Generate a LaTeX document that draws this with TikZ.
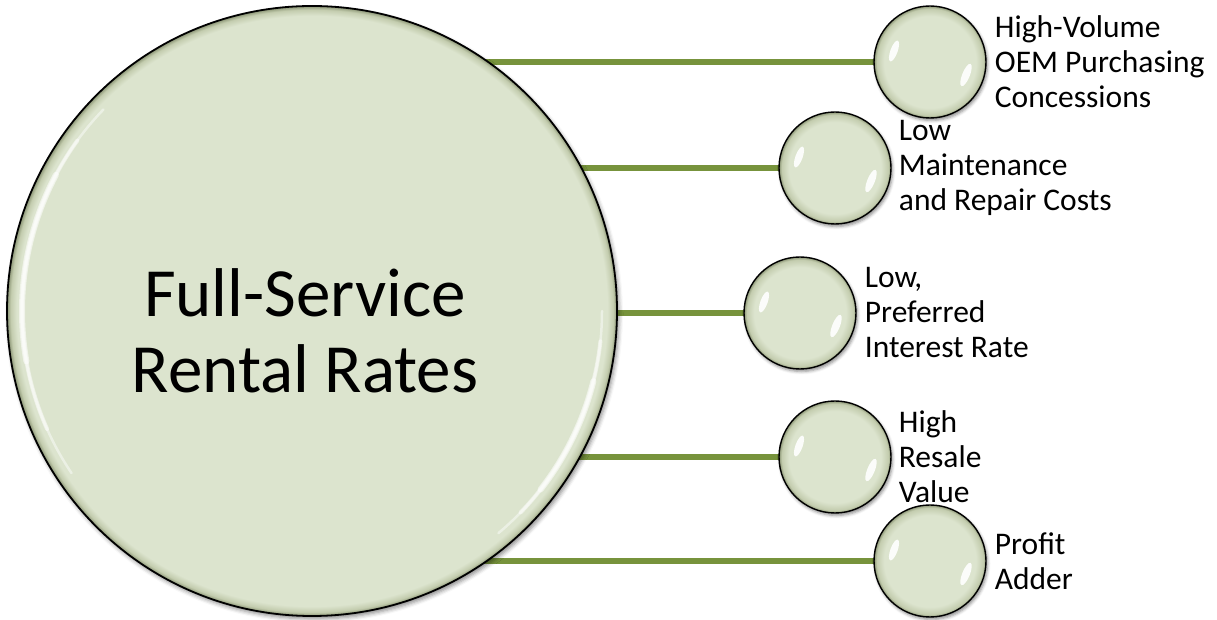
\documentclass[tikz,border=0pt]{standalone}
\usepackage{fontspec}
\setmainfont{Carlito}
\usetikzlibrary{shadows.blur}
\definecolor{ballfill}{HTML}{DCE4CE}
\definecolor{ballmid}{HTML}{C3CCAE}
\definecolor{balledge}{HTML}{8A9474}
\definecolor{linkc}{HTML}{77933C}
\pgfdeclareradialshading{smallballshade}{\pgfpoint{0bp}{0bp}}{color(0bp)=(ballfill); color(20.5bp)=(ballfill); color(23.8bp)=(ballmid); color(25bp)=(balledge); color(50bp)=(balledge)}
\pgfdeclareradialshading{bigballshade}{\pgfpoint{0bp}{0bp}}{color(0bp)=(ballfill); color(24.2bp)=(ballfill); color(24.7bp)=(ballmid); color(25bp)=(balledge); color(50bp)=(balledge)}
\pgfdeclarelayer{background}
\pgfsetlayers{background,main}
\begin{document}
\begin{tikzpicture}[x=1pt,y=1pt,
  smallball/.style={circle, inner sep=0pt, draw=black, line width=1.4pt, shade, shading=smallballshade, minimum size=112pt,
    blur shadow={shadow xshift=1.5pt, shadow yshift=-2.5pt, shadow blur radius=3pt, shadow opacity=45}},
  mainball/.style={circle, inner sep=0pt, draw=black, line width=1.8pt, shade, shading=bigballshade, minimum size=610pt,
    blur shadow={shadow xshift=2pt, shadow yshift=-3pt, shadow blur radius=4pt, shadow opacity=45}},
  link/.style={linkc, line width=6pt},
  lab/.style={anchor=west, inner sep=0pt, align=left, font=\fontsize{31.5}{35}\selectfont},
  titlefont/.style={inner sep=0pt, align=center, font=\fontsize{69}{76}\selectfont},
  gloss/.style={white, opacity=.9}
]
\useasboundingbox (0,0) rectangle (1217,620);

\node[mainball] (big) at (312,309) {};
\node[smallball] (s1) at (930,558) {};
\node[smallball] (s2) at (835,452) {};
\node[smallball] (s3) at (800,307) {};
\node[smallball] (s4) at (835,163) {};
\node[smallball] (s5) at (930,59) {};

\begin{pgfonlayer}{background}
\foreach \n in {s1,s2,s3,s4,s5}
  \draw[link] (big.center |- \n.center) -- (\n.center);
\end{pgfonlayer}

% gloss on small balls
\foreach \n in {s1,s2,s3,s4,s5} {
  \fill[gloss] ([shift={(-36,11)}]\n.center) circle[x radius=3.6, y radius=11, rotate=-20];
  \fill[gloss] ([shift={(36,-13)}]\n.center) circle[x radius=3.8, y radius=12, rotate=-22];
}

% gloss on big ball
\foreach \a/\b/\w/\o in {136/214/2.5/.45, 144/204/4/.5, 152/190/6/.55}
  \draw[white, opacity=\o, line width=\w, line cap=round] (big.center) ++(\a:290) arc[start angle=\a, end angle=\b, radius=290];
\foreach \a/\b/\w/\o in {-50/0/2.5/.45, -44/-6/4/.5, -38/-14/6/.55}
  \draw[white, opacity=\o, line width=\w, line cap=round] (big.center) ++(\a:290) arc[start angle=\a, end angle=\b, radius=290];

% title
\node[titlefont] (title) at (305,289.5) {Full-Service\\Rental Rates};

% labels
\node[lab] (l1) at ([xshift=8]s1.east) {High-Volume\\OEM Purchasing\\Concessions};
\node[lab] (l2) at ([xshift=7]s2.east) {Low\\Maintenance\\and Repair Costs};
\node[lab] (l3) at ([xshift=8]s3.east) {Low,\\Preferred\\Interest Rate};
\node[lab] (l4) at ([xshift=7]s4.east) {High\\Resale\\Value};
\node[lab] (l5) at ([xshift=8]s5.east) {Profit\\Adder};
\end{tikzpicture}
\end{document}
